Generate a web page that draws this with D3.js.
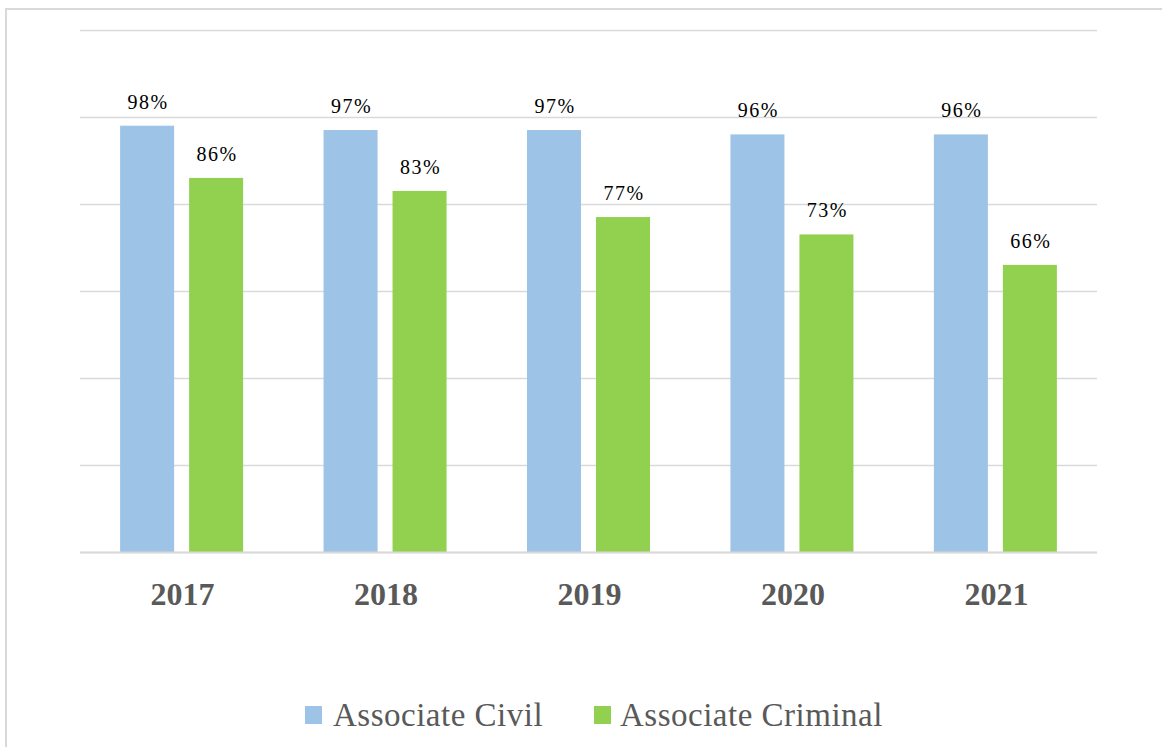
<!DOCTYPE html>
<html><head><meta charset="utf-8">
<script src="https://cdn.jsdelivr.net/npm/d3@7"></script>
<style>body{margin:0;background:#fff}svg{display:block}text{font-family:'Liberation Serif','DejaVu Serif',serif}</style>
</head><body>
<svg id="c" width="1162" height="747"></svg>
<script>
const years = ["2017","2018","2019","2020","2021"];
const seriesNames = ["Associate Civil","Associate Criminal"];
const civil = [0.98,0.97,0.97,0.96,0.96];
const criminal = [0.86,0.83,0.77,0.73,0.66];
const yTicks = [0,0.2,0.4,0.6,0.8,1.0,1.2];
const colors = ["#9dc3e6","#92d050"];

const svg = d3.select("#c");
svg.append("rect").attr("x",6).attr("y",9).attr("width",1200).attr("height",800)
  .attr("fill","none").attr("stroke","#d9d9d9").attr("stroke-width",2);

const L=80,R=1097,T=30,B=552;
const x = d3.scaleBand().domain(years).range([L,R]).paddingInner(0.395).paddingOuter(0.197);
const y = d3.scaleLinear().domain([0,1.2]).range([B,T]);

svg.append("g").selectAll("line").data(yTicks).join("line")
  .attr("x1",L).attr("x2",R).attr("y1",d=>Math.round(y(d))+0.5).attr("y2",d=>Math.round(y(d))+0.5)
  .attr("stroke","#d9d9d9").attr("stroke-width",1.6);

const barW = 54, gap = 15;
const data = [civil, criminal];
const groupW = 2*barW+gap;
data.forEach((vals,si)=>{
  const g = svg.append("g");
  const xs = d => x.bandwidth()/2 + x(d) - groupW/2 + si*(barW+gap);
  g.selectAll("rect").data(years).join("rect")
    .attr("x",d=>xs(d)).attr("width",barW)
    .attr("y",(d,i)=>y(vals[i])).attr("height",(d,i)=>B-y(vals[i]))
    .attr("fill",colors[si]);
  g.selectAll("text").data(years).join("text")
    .attr("x",d=>xs(d)+barW/2+1).attr("y",(d,i)=>y(vals[i])-17)
    .attr("text-anchor","middle")
    .style("font-family","'Liberation Serif', serif")
    .attr("font-size",20).attr("letter-spacing",1.5).attr("fill","#000")
    .text((d,i)=>Math.round(vals[i]*100)+"%");
});

svg.append("line").attr("x1",L).attr("x2",R).attr("y1",B+0.5).attr("y2",B+0.5)
  .attr("stroke","#d9d9d9").attr("stroke-width",2);

svg.append("g").selectAll("text").data(years).join("text")
  .attr("x",d=>x(d)+x.bandwidth()/2+1).attr("y",605)
  .attr("text-anchor","middle")
  .attr("font-weight","bold").attr("font-size",32).attr("fill","#595959").text(d=>d);

const leg = [{x:305,tx:333},{x:594,tx:620}];
seriesNames.forEach((n,i)=>{
  svg.append("rect").attr("x",leg[i].x).attr("y",706).attr("width",17).attr("height",18).attr("fill",colors[i]);
  svg.append("text").attr("x",leg[i].tx).attr("y",726)
    .attr("font-size",33).attr("letter-spacing",0.5).attr("fill","#595959").text(n);
});
</script>
</body></html>
